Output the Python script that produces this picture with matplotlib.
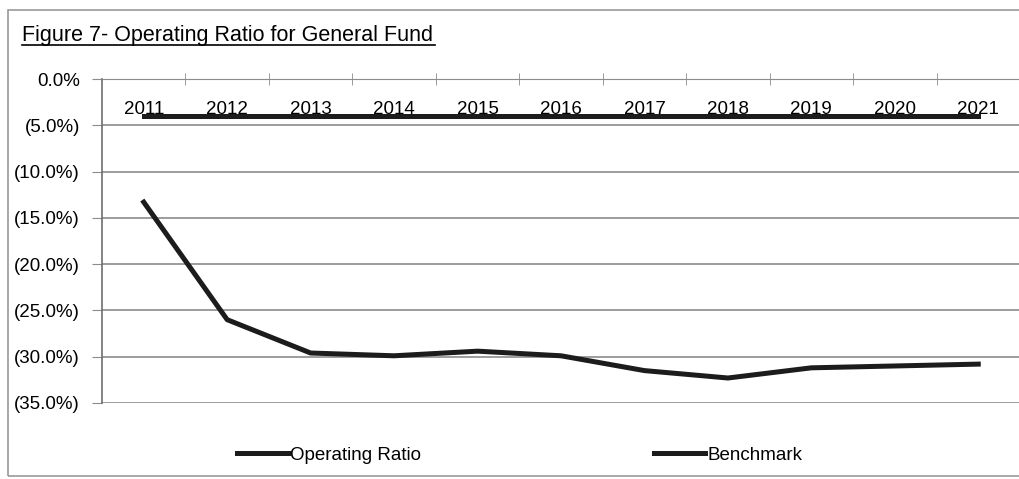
import matplotlib
matplotlib.use('Agg')
import matplotlib.pyplot as plt
from matplotlib.ticker import FuncFormatter, FixedLocator
from matplotlib.patches import Rectangle

plt.rcParams['font.family'] = ['Liberation Sans Narrow', 'Liberation Sans', 'DejaVu Sans']

# datos
years = ['2011', '2012', '2013', '2014', '2015', '2016', '2017', '2018', '2019', '2020', '2021']
operating_ratio = [-13.3, -26.0, -29.6, -29.9, -29.4, -29.9, -31.5, -32.3, -31.2, -31.0, -30.8]
benchmark = [-4.0] * 11
y_ticks = [0, -5, -10, -15, -20, -25, -30, -35]

fig = plt.figure(figsize=(10.19, 4.79), dpi=100)
fig.patch.set_facecolor('white')

# marco del grafico
fig.patches.append(Rectangle((8/1019, 3/479), 1.2, 466/479, transform=fig.transFigure,
                             fill=False, edgecolor='#9a9a9a', lw=1.2))

ax = fig.add_axes([102/1019, (479-403)/479, 918/1019, 324/479])
x = list(range(len(years)))

ax.plot(x, operating_ratio, color='#1c1c1c', lw=3.6, solid_joinstyle='round',
        label='Operating Ratio', zorder=3)
ax.plot(x, benchmark, color='#1c1c1c', lw=3.6, label='Benchmark', zorder=3)

ax.set_xlim(-0.5, len(years) - 0.5)
ax.set_ylim(-35, 0)
ax.set_yticks(y_ticks)
ax.yaxis.set_major_formatter(FuncFormatter(
    lambda v, p: '0.0%' if v == 0 else '({:.1f}%)'.format(abs(v))))
ax.grid(axis='y', color='#8c8c8c', lw=1.2)
ax.set_axisbelow(True)
ax.tick_params(axis='y', direction='out', length=7, color='#8c8c8c', labelsize=13.5, pad=9)

# eje de categorias en 0
ax.spines['bottom'].set_position(('data', 0))
ax.spines['bottom'].set_color('#8c8c8c')
ax.spines['left'].set_color('#6e6e6e')
ax.spines['left'].set_linewidth(1.2)
ax.spines['top'].set_visible(False)
ax.spines['right'].set_visible(False)
ax.set_xticks(x)
ax.set_xticklabels(years)
ax.tick_params(axis='x', which='major', length=0, labelsize=13.5, pad=16)
ax.xaxis.set_minor_locator(FixedLocator([i + 0.5 for i in x[:-1]]))
ax.tick_params(axis='x', which='minor', direction='inout', length=8, color='#8c8c8c')

fig.text(22/1019, 1 - 35/479, 'Figure 7- Operating Ratio for General Fund',
         fontsize=15.5, va='center', ha='left')
fig.add_artist(plt.Line2D([22/1019, 435/1019], [1 - 45/479, 1 - 45/479],
                          color='black', lw=1.2, transform=fig.transFigure))

leg = fig.legend(loc='center', bbox_to_anchor=(0.51, 1 - 455/479), ncol=2, frameon=False,
                 fontsize=13.5, handlelength=2.7, handletextpad=0.15, columnspacing=12.4)

fig.savefig('out.png', dpi=100)
